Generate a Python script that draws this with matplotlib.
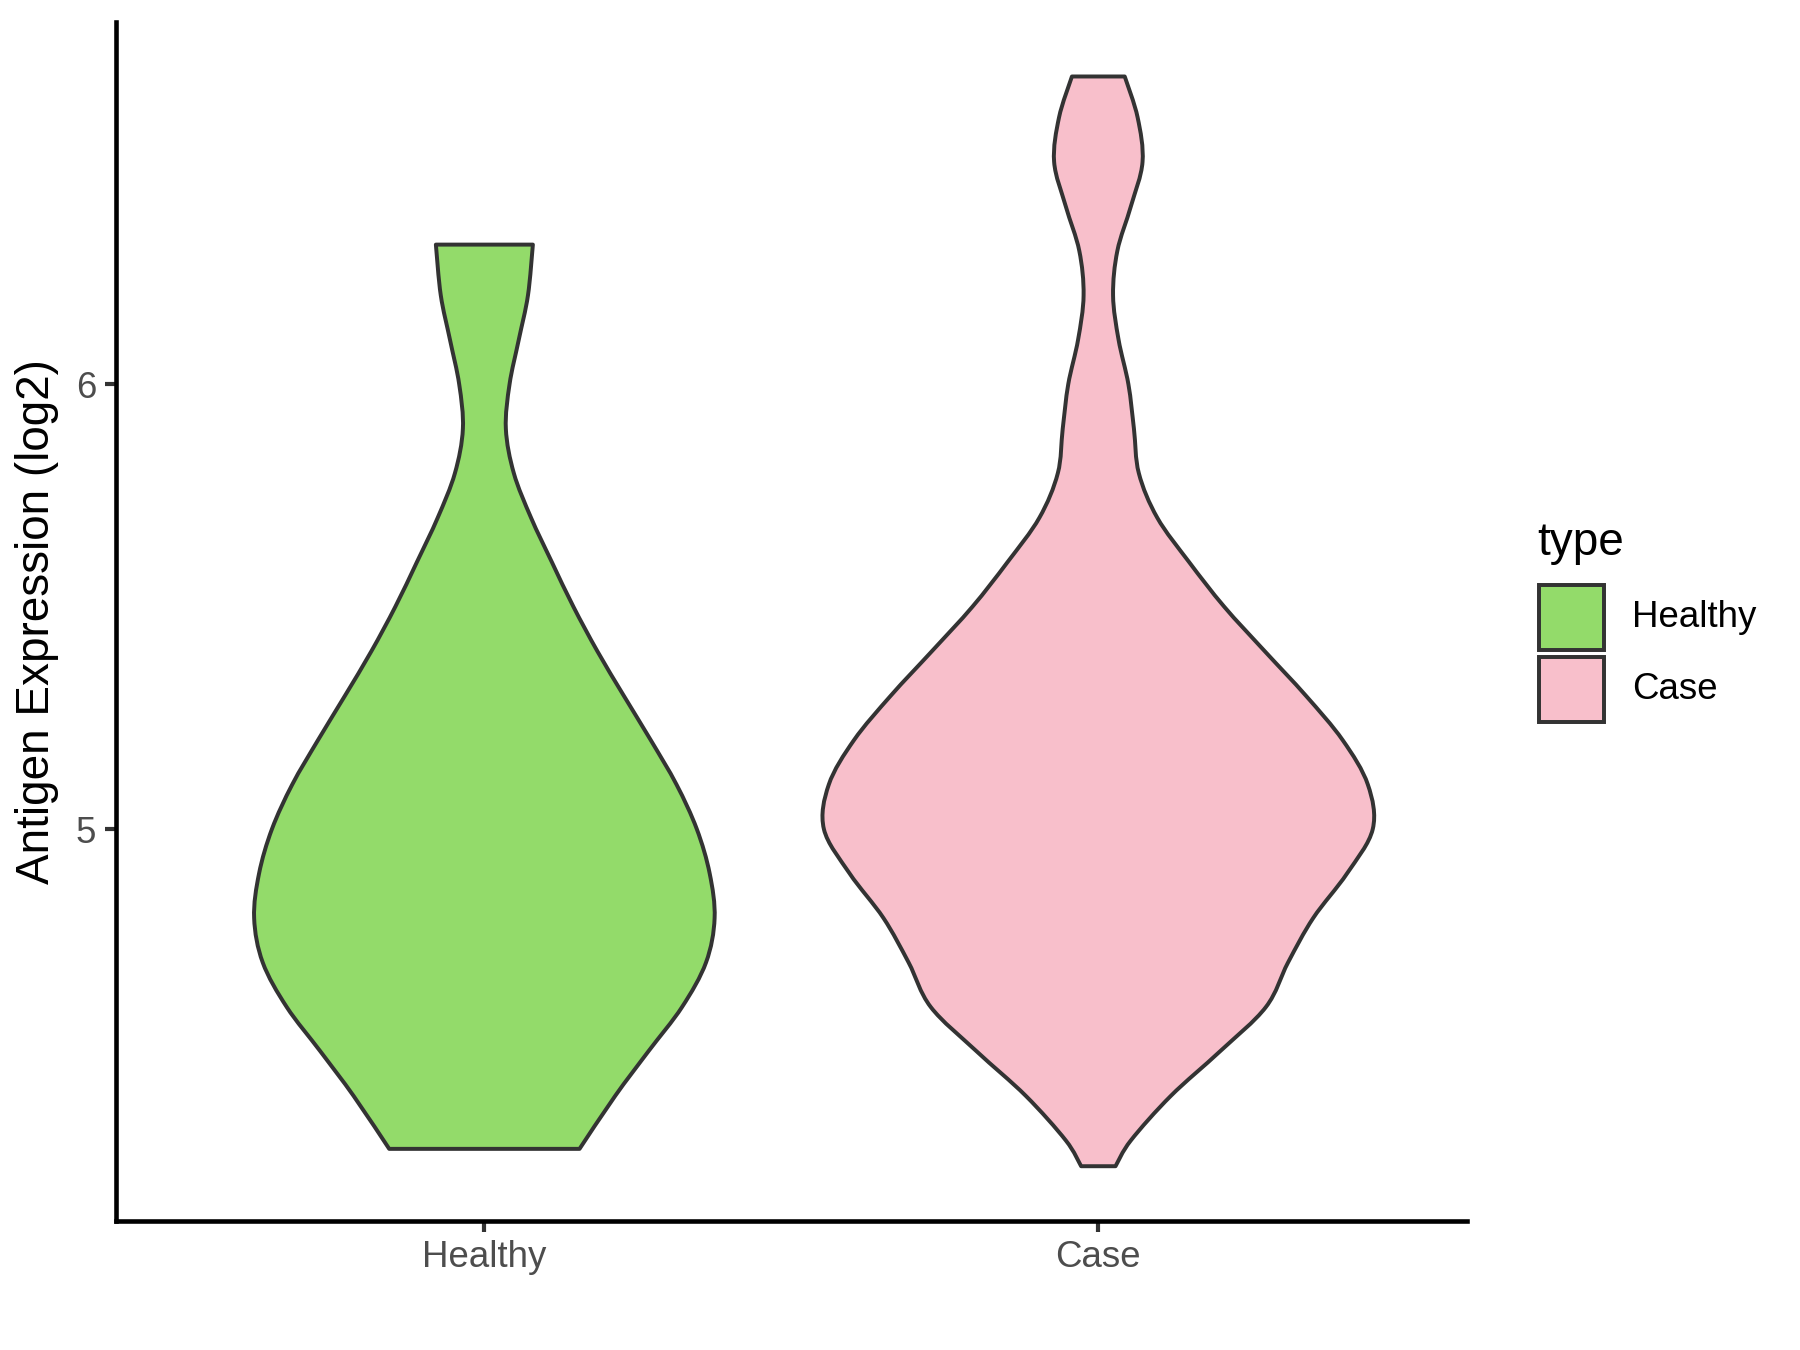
import numpy as np
import matplotlib
matplotlib.use("Agg")
import matplotlib.pyplot as plt
from matplotlib.path import Path
from matplotlib.patches import PathPatch, Rectangle

plt.rcParams["font.family"] = ["Liberation Sans", "DejaVu Sans"]

# ---------- data ----------
groups = ["Healthy", "Case"]
fill_colors = ["#93DB6A", "#F8BFCB"]

# violin outline: y level (log2 expression) and half width (in x units), top -> bottom
healthy_y = [6.314, 6.2, 6.1, 6.0, 5.9, 5.8, 5.7, 5.6, 5.5, 5.4, 5.3,
             5.2, 5.1, 5.0, 4.9, 4.8, 4.7, 4.6, 4.5, 4.4, 4.281]
healthy_hw = [0.079, 0.071, 0.056, 0.041, 0.035, 0.048, 0.076, 0.110, 0.145, 0.184, 0.227,
              0.271, 0.313, 0.346, 0.367, 0.375, 0.361, 0.322, 0.267, 0.213, 0.155]

case_y = [6.692, 6.6, 6.5, 6.4, 6.3, 6.2, 6.1, 6.0, 5.9, 5.8, 5.7, 5.6, 5.5,
          5.4, 5.3, 5.2, 5.1, 5.0, 4.9, 4.8, 4.7, 4.6, 4.5, 4.4, 4.3, 4.242]
case_hw = [0.043, 0.064, 0.072, 0.053, 0.031, 0.024, 0.033, 0.049, 0.058, 0.066, 0.096, 0.148, 0.205,
           0.271, 0.338, 0.398, 0.439, 0.447, 0.405, 0.350, 0.309, 0.273, 0.198, 0.118, 0.053, 0.028]

profiles = [(healthy_y, healthy_hw), (case_y, case_hw)]


def bezier_side(pts):
    # catmull-rom through the read points, written as cubic bezier pieces
    p = np.vstack([pts[0], pts, pts[-1]])
    verts = []
    for i in range(1, len(p) - 2):
        c1 = p[i] + (p[i + 1] - p[i - 1]) / 6
        c2 = p[i + 1] - (p[i + 2] - p[i]) / 6
        verts += [c1, c2, p[i + 1]]
    return verts


def violin_path(center, ys, hws):
    ys = np.asarray(ys); hws = np.asarray(hws)
    right = np.column_stack([center + hws, ys])            # top -> bottom
    left = np.column_stack([center - hws, ys])[::-1]       # bottom -> top
    verts = [left[-1], right[0]]
    codes = [Path.MOVETO, Path.LINETO]
    rv = bezier_side(right)
    verts += rv; codes += [Path.CURVE4] * len(rv)
    verts.append(left[0]); codes.append(Path.LINETO)
    lv = bezier_side(left)
    verts += lv; codes += [Path.CURVE4] * len(lv)
    verts.append(left[-1]); codes.append(Path.CLOSEPOLY)
    return Path(np.array(verts), codes)


fig = plt.figure(figsize=(12, 9), dpi=150)
ax = fig.add_axes([116 / 1800, 1 - 1220.7 / 1350,
                   (1466.7 - 116) / 1800, (1220.7 - 22) / 1350])

for i, ((ys, hws), col) in enumerate(zip(profiles, fill_colors)):
    patch = PathPatch(violin_path(i + 1, ys, hws), facecolor=col,
                      edgecolor="#333333", lw=1.9, joinstyle="round")
    ax.add_patch(patch)

# ggplot style limits: discrete x with 0.6 expansion, y with 5% padding
all_y = healthy_y + case_y
lo, hi = min(all_y), max(all_y)
pad = 0.05 * (hi - lo)
ax.set_xlim(0.4, 2.6)
ax.set_ylim(lo - pad, hi + pad)

ax.set_xticks([1, 2])
ax.set_xticklabels(groups)
ax.set_yticks([5, 6])
ax.set_yticklabels(["5", "6"])
ax.tick_params(direction="out", length=5.5, width=2.0, color="#333333",
               labelcolor="#4D4D4D", labelsize=17.6, pad=4)

for s in ["top", "right"]:
    ax.spines[s].set_visible(False)
for s in ["left", "bottom"]:
    ax.spines[s].set_linewidth(2.2)
    ax.spines[s].set_color("black")

ax.set_ylabel("Antigen Expression (log2)", fontsize=22, labelpad=8)

# legend, ggplot layout (positions in figure pixels)
W, H = 1800, 1350
fig.text(1537 / W, 1 - 555 / H, "type", fontsize=22, ha="left", va="baseline")
key_tops = [585, 657]
for top, col, lab in zip(key_tops, fill_colors, groups):
    fig.add_artist(Rectangle((1539 / W, 1 - (top + 65) / H), 65 / W, 65 / H,
                             transform=fig.transFigure, facecolor=col,
                             edgecolor="#333333", lw=1.9))
    fig.text(1632 / W, 1 - (top + 32.5) / H, lab, fontsize=17.6,
             ha="left", va="center")

fig.savefig("out.png", dpi=150, facecolor="white")
